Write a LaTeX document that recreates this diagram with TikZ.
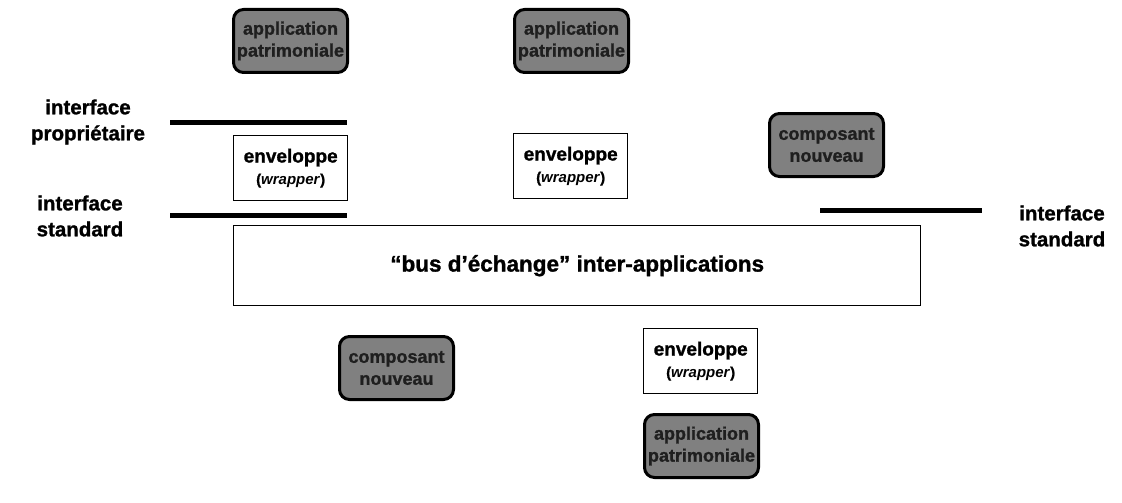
\documentclass[tikz,border=0pt]{standalone}
\usepackage{fontspec}
\setmainfont{Liberation Sans}[BoldFeatures={FakeBold=1.2}]
\begin{document}
\begin{tikzpicture}[x=1pt,y={(0pt,-1pt)},
  lbl/.style={font=\bfseries\fontsize{20.5}{26}\selectfont, align=center, inner sep=0pt},
  legacy/.style={draw=black, line width=3pt, rounded corners=10pt, fill=black!50,
    text=black!88, font=\bfseries\fontsize{18}{22}\selectfont, align=center,
    inner sep=2pt, minimum width=114pt, minimum height=63pt, anchor=north west},
  wrapbox/.style={draw=black, line width=1.4pt, fill=white,
    font=\bfseries\fontsize{19}{22}\selectfont, align=center, inner sep=3pt,
    minimum width=114pt, minimum height=65pt, anchor=north west},
  busbox/.style={draw=black, line width=1.4pt, fill=white,
    font=\bfseries\fontsize{22.5}{26}\selectfont, minimum width=687pt,
    minimum height=80pt, anchor=north west},
  iface/.style={line width=5pt}]
\useasboundingbox (0,0) rectangle (1122,503);

% interface labels
\node[lbl] (lprop) at (88,122) {interface\\propriétaire};
\node[lbl] (lstdl) at (80,216) {interface\\standard};
\node[lbl] (lstdr) at (1062,226) {interface\\standard};

% interface bars
\coordinate (p1) at (170,122); \coordinate (p2) at (347,122);
\coordinate (s1) at (170,215); \coordinate (s2) at (347,215);
\coordinate (r1) at (820,210); \coordinate (r2) at (982,210);
\draw[iface] (p1) -- (p2);
\draw[iface] (s1) -- (s2);
\draw[iface] (r1) -- (r2);

% upper row
\node[legacy] (app1) at (232,8) {application\\patrimoniale};
\node[legacy] (app2) at (513,8) {application\\patrimoniale};
\node[wrapbox] (env1) at (233,135) {enveloppe\\{\fontsize{15}{18}\selectfont(\textit{wrapper})}};
\node[wrapbox] (env2) at (513,133) {enveloppe\\{\fontsize{15}{18}\selectfont(\textit{wrapper})}};
\node[legacy] (new1) at (768,112) {composant\\nouveau};

% exchange bus
\node[busbox] (bus) at (233,225) {“bus d'échange” inter-applications};

% lower row
\node[legacy] (new2) at (338,335) {composant\\nouveau};
\node[wrapbox] (env3) at (643,328) {enveloppe\\{\fontsize{15}{18}\selectfont(\textit{wrapper})}};
\node[legacy] (app3) at (643,413) {application\\patrimoniale};
\end{tikzpicture}
\end{document}
